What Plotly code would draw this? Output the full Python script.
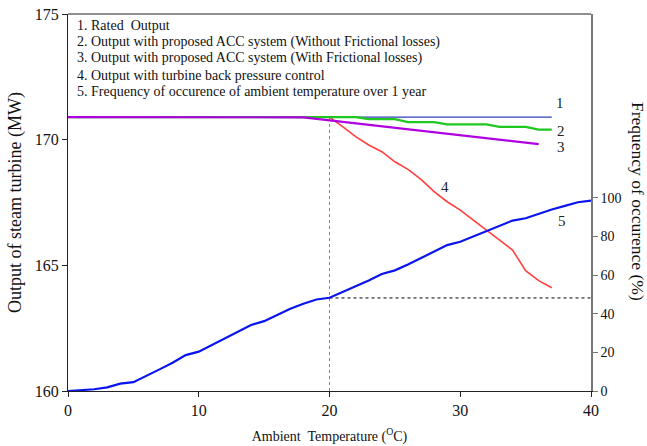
import plotly.graph_objects as go

# Data
temp_full = list(range(0, 41))
freq_pct = [0, 0.3, 0.9, 1.9, 3.8, 4.6, 7.7, 11.2, 14.6, 18.6, 20.4, 23.9, 27.5, 30.8, 34.2,
            36.2, 39.3, 42.6, 45.2, 47.4, 48.3, 51.2, 54.1, 57.2, 60.6, 62.5, 65.5, 68.9,
            72.3, 75.6, 77.3, 80.1, 83.0, 85.7, 88.3, 89.5, 91.8, 94.0, 95.9, 97.8, 98.6]

rated_x = [0, 37]
rated_y = [170.9, 170.9]

green_x = [0, 20, 21, 22, 22.5, 23, 25, 25.5, 26, 28, 28.5, 29, 32, 32.5, 33, 35, 35.5, 36, 37]
green_y = [170.9, 170.92, 170.92, 170.9, 170.86, 170.82, 170.82, 170.76, 170.70, 170.70, 170.66,
           170.61, 170.61, 170.56, 170.51, 170.51, 170.46, 170.40, 170.40]

purple_x = [0, 17, 18, 36]
purple_y = [170.9, 170.9, 170.89, 169.82]

red_x = [0, 20, 21, 22, 23, 24, 25, 26, 27, 28, 29, 30, 31, 32, 33, 34, 35, 36, 37]
red_y = [170.9, 170.9, 170.52, 170.12, 169.79, 169.52, 169.12, 168.82, 168.42, 167.93, 167.53,
         167.20, 166.80, 166.41, 166.01, 165.61, 164.79, 164.39, 164.11]

marker_temp = 20
marker_pct = 48.2

curve_labels = ["1", "2", "3", "4", "5"]
label_x = [37.6, 37.7, 37.7, 28.8, 37.75]
label_y = [171.46, 170.36, 169.72, 168.13, 166.78]

legend_lines = ["1. Rated  Output",
                "2. Output with proposed ACC system (Without Frictional losses)",
                "3. Output with proposed ACC system (With Frictional losses)",
                "4. Output with turbine back pressure control",
                "5. Frequency of occurence of ambient temperature over 1 year"]

FONT = "Liberation Serif, Times New Roman, serif"

fig = go.Figure()

# dotted guide lines
fig.add_trace(go.Scatter(x=[marker_temp, marker_temp], y=[160, 170.9], mode="lines",
                         line=dict(color="#888888", width=1, dash="dot"), showlegend=False))
fig.add_trace(go.Scatter(x=[marker_temp, 40], y=[marker_pct, marker_pct], mode="lines", yaxis="y2",
                         line=dict(color="#000000", width=1, dash="dot"), showlegend=False))

fig.add_trace(go.Scatter(x=temp_full, y=freq_pct, mode="lines", yaxis="y2",
                         line=dict(color="#0a14f0", width=2.2), showlegend=False))
fig.add_trace(go.Scatter(x=rated_x, y=rated_y, mode="lines",
                         line=dict(color="#3040b8", width=1.2), showlegend=False))
fig.add_trace(go.Scatter(x=red_x, y=red_y, mode="lines",
                         line=dict(color="#ff4040", width=1.6), showlegend=False))
fig.add_trace(go.Scatter(x=green_x, y=green_y, mode="lines",
                         line=dict(color="#1ec81e", width=2.2), showlegend=False))
fig.add_trace(go.Scatter(x=purple_x, y=purple_y, mode="lines",
                         line=dict(color="#b000e0", width=2.2), showlegend=False))

for t, lx, ly in zip(curve_labels, label_x, label_y):
    fig.add_annotation(x=lx, y=ly, text=t, showarrow=False, xref="x", yref="y",
                       font=dict(family=FONT, size=15, color="#222"))

for i, line in enumerate(legend_lines):
    fig.add_annotation(x=0.014, y=1.0, yshift=-11 - 16.7 * i, xref="paper", yref="paper",
                       xanchor="left", yanchor="middle", align="left", showarrow=False,
                       text=line, font=dict(family=FONT, size=14, color="#111"))

fig.add_annotation(x=1.0, xshift=47, y=0.504, xref="paper", yref="paper", showarrow=False,
                   xanchor="center", yanchor="middle", textangle=90,
                   text="Frequency of occurence (%)",
                   font=dict(family=FONT, size=17.5, color="#111"))

fig.update_layout(
    width=647, height=446,
    margin=dict(l=68, r=56, t=14, b=55),
    paper_bgcolor="white", plot_bgcolor="white",
    font=dict(family=FONT, color="#111"),
    xaxis=dict(range=[0, 40], tickvals=[0, 10, 20, 30, 40], showgrid=False, zeroline=False,
               showline=True, linecolor="#222", linewidth=1.2, ticks="outside", ticklen=5,
               tickcolor="#222", tickfont=dict(family=FONT, size=16), mirror=False,
               automargin=False,
               title=dict(text="Ambient  Temperature (<sup>O</sup>C)", standoff=12,
                          font=dict(family=FONT, size=14))),
    yaxis=dict(range=[160, 175], tickvals=[160, 165, 170, 175], showgrid=False, zeroline=False,
               showline=True, linecolor="#222", linewidth=1.2, ticks="outside", ticklen=5,
               tickcolor="#222", tickfont=dict(family=FONT, size=16), automargin=False,
               title=dict(text="Output of steam turbine (MW)", standoff=8,
                          font=dict(family=FONT, size=18))),
    yaxis2=dict(range=[0, 195.3], tickvals=[0, 20, 40, 60, 80, 100], overlaying="y", side="right",
                showgrid=False, zeroline=False, showline=True, linecolor="#777", linewidth=1.5,
                automargin=False,
                ticks="outside", ticklen=5, tickcolor="#777", tickfont=dict(family=FONT, size=14)),
    shapes=[dict(type="line", xref="paper", yref="paper", x0=0, x1=1, y0=1, y1=1,
                 line=dict(color="#222", width=1.2))],
)

fig.write_html("out.html")
